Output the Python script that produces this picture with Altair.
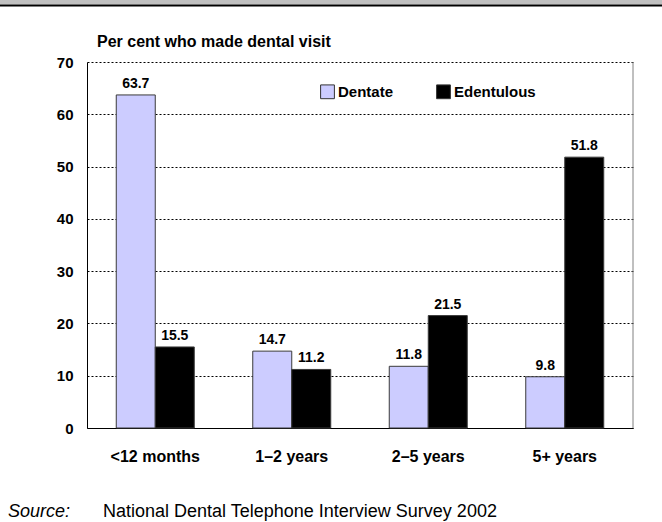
import altair as alt
import pandas as pd

# ---- data ----
categories = ["<12 months", "1–2 years", "2–5 years", "5+ years"]
series = ["Dentate", "Edentulous"]
dentate = [63.7, 14.7, 11.8, 9.8]
edentulous = [15.5, 11.2, 21.5, 51.8]
y_ticks = [0, 10, 20, 30, 40, 50, 60, 70]
colors = ["#CCCCFF", "#000000"]
title_text = "Per cent who made dental visit"
source_label = "Source:"
source_text = "National Dental Telephone Interview Survey 2002"

rows = []
for c, d, e in zip(categories, dentate, edentulous):
    rows.append({"period": c, "group": series[0], "value": d})
    rows.append({"period": c, "group": series[1], "value": e})
df = pd.DataFrame(rows)
df["label"] = df["value"].map(lambda v: f"{v:.1f}")

FONT = "Liberation Sans"
W, H = 546, 366

x_enc = alt.X(
    "period:N",
    sort=categories,
    scale=alt.Scale(paddingInner=0, paddingOuter=0),
    axis=alt.Axis(
        title=None, labelAngle=0, labelFontSize=16, labelFontWeight="bold",
        labelColor="black", labelFont=FONT, ticks=False, labelPadding=20,
        domainColor="black", domainWidth=1,
    ),
)
xoff_enc = alt.XOffset("group:N", sort=series, scale=alt.Scale(paddingInner=0, paddingOuter=0.75))
y_enc = alt.Y(
    "value:Q",
    scale=alt.Scale(domain=[0, 70], nice=False),
    axis=alt.Axis(
        values=y_ticks, title=None, grid=True, gridDash=[2, 2], gridColor="black",
        gridWidth=1, labelFontSize=15, labelFontWeight="bold", labelColor="black",
        labelFont=FONT, ticks=False, labelPadding=14, domainColor="black", domainWidth=1,
    ),
)
color_enc = alt.Color(
    "group:N",
    sort=series,
    scale=alt.Scale(domain=series, range=colors),
    legend=alt.Legend(
        title=None, orient="none", legendX=233, legendY=22, direction="horizontal",
        symbolType="square", symbolSize=190, labelFontSize=15, labelFontWeight="bold",
        labelFont=FONT, labelColor="black", columnPadding=40, labelOffset=3,
        symbolStrokeColor="#333333", symbolStrokeWidth=1,
    ),
)

base = alt.Chart(df)
bars = base.mark_bar(stroke="#3a3a3a", strokeWidth=1).encode(
    x=x_enc, xOffset=xoff_enc, y=y_enc, color=color_enc
)
labels = base.mark_text(
    fontSize=14, fontWeight="bold", font=FONT, baseline="alphabetic", dy=-7, color="black"
).encode(x=x_enc, xOffset=xoff_enc, y=y_enc, text="label:N")

one = pd.DataFrame({"t": [title_text], "s": [source_label], "n": [source_text]})
deco = alt.Chart(one)

right_border = deco.mark_rule(color="#808080", strokeWidth=1).encode(
    x=alt.value(W), y=alt.value(0), y2=alt.value(H)
)
top_band = deco.mark_rect(color="#C0C0C0").encode(
    x=alt.value(-87), x2=alt.value(575), y=alt.value(-62), y2=alt.value(-57.5)
)
top_line = deco.mark_rule(color="black", strokeWidth=2).encode(
    x=alt.value(-87), x2=alt.value(575), y=alt.value(-56.5)
)
title = deco.mark_text(
    align="left", baseline="alphabetic", fontSize=16, fontWeight="bold", font=FONT, color="black"
).encode(x=alt.value(10), y=alt.value(-15), text="t:N")
src1 = deco.mark_text(
    align="left", baseline="alphabetic", fontSize=18, fontStyle="italic", font=FONT, color="black"
).encode(x=alt.value(-79), y=alt.value(455), text="s:N")
src2 = deco.mark_text(
    align="left", baseline="alphabetic", fontSize=18, font=FONT, color="black"
).encode(x=alt.value(16), y=alt.value(455), text="n:N")

chart = (
    alt.layer(bars, labels, right_border, top_band, top_line, title, src1, src2)
    .properties(
        width=W, height=H,
        autosize=alt.AutoSizeParams(type="none"),
        padding={"left": 87, "top": 62, "right": 29, "bottom": 94},
        background="white",
    )
    .configure_view(stroke=None)
)

chart.save("out.html", embed_options={"renderer": "svg", "actions": False})
